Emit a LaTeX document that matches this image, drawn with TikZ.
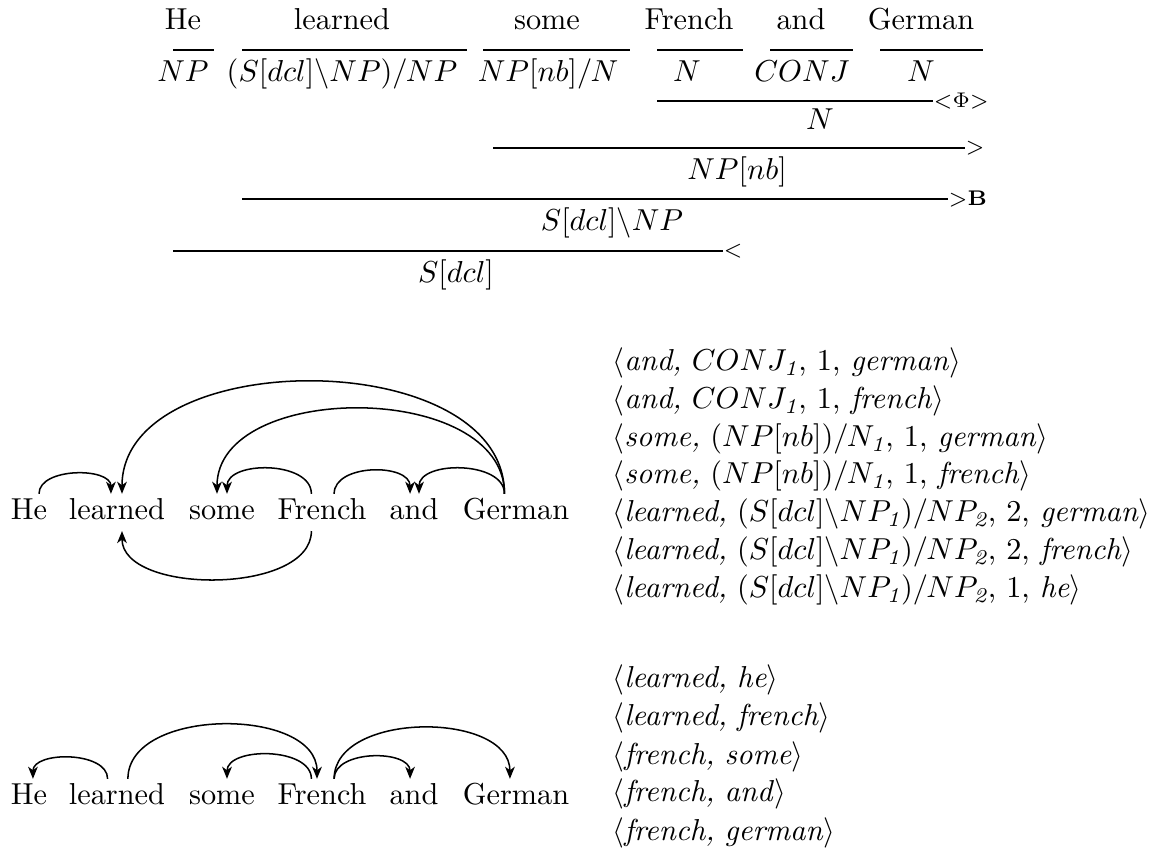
\documentclass[tikz,border=0pt]{standalone}
\usepackage{amsmath}
\usetikzlibrary{arrows.meta}
\begin{document}
\begin{tikzpicture}[x=0.33pt,y=0.33pt,
  lbl/.style={anchor=base,inner sep=0pt},
  rule/.style={line width=0.4pt},
  rl/.style={anchor=west,inner sep=0pt,font=\scriptsize},
  word/.style={anchor=base,inner xsep=0pt,inner ysep=1.5pt,text height=6.94pt,text depth=1.94pt},
  dep/.style={line width=0.5pt,-{Stealth[length=4pt,width=3.2pt,inset=1.2pt]}},
  tup/.style={anchor=base west,inner sep=0pt}]
\useasboundingbox (0,0) rectangle (1169,-850);

% ---------- CCG derivation ----------
\node[lbl] (w1) at (183,-30) {He};
\node[lbl] (w2) at (342,-30) {learned};
\node[lbl] (w3) at (547,-30) {some};
\node[lbl] (w4) at (689,-30) {French};
\node[lbl] (w5) at (801,-30) {and};
\node[lbl] (w6) at (921,-30) {German};

\node[lbl] (c1) at (183,-82) {$NP$};
\node[lbl] (c2) at (342,-82) {$(S[dcl]\backslash NP)/NP$};
\node[lbl] (c3) at (548,-82) {$NP[nb]/N$};
\node[lbl] (c4) at (687,-82) {$N$};
\node[lbl] (c5) at (802,-82) {$CONJ$};
\node[lbl] (c6) at (921,-82) {$N$};

\draw[rule] (173,-50) -- (214,-50);
\draw[rule] (242,-50) -- (467,-50);
\draw[rule] (483,-50) -- (630,-50);
\draw[rule] (657,-50) -- (743,-50);
\draw[rule] (770,-50) -- (853,-50);
\draw[rule] (880,-50) -- (983,-50);

\draw[rule] (657,-101) -- (933,-101) node[rl] (l2) {${<}\Phi{>}$};
\node[lbl] (r2) at (820,-130) {$N$};
\draw[rule] (493,-148) -- (965,-148) node[rl] (l3) {${>}$};
\node[lbl] (r3) at (737,-180) {$NP[nb]$};
\draw[rule] (242,-199) -- (948,-199) node[rl] (l4) {${>}\mathbf{B}$};
\node[lbl] (r4) at (612,-231) {$S[dcl]\backslash NP$};
\draw[rule] (173,-251) -- (723,-251) node[rl] (l5) {${<}$};
\node[lbl] (r5) at (456,-283) {$S[dcl]$};

% ---------- middle dependency graph ----------
\node[word] (m1) at (29,-520) {He};
\node[word] (m2) at (117,-520) {learned};
\node[word] (m3) at (222,-520) {some};
\node[word] (m4) at (322,-520) {French};
\node[word] (m5) at (414,-520) {and};
\node[word] (m6) at (516,-520) {German};

\draw[dep] ([xshift=3.3pt]m1.north) to[out=90,in=90,distance=8.8pt] ([xshift=-2pt]m2.north);
\draw[dep] ([xshift=-3.8pt]m6.north) to[out=90,in=90,distance=49.3pt] ([xshift=1.65pt]m2.north);
\draw[dep] ([xshift=-3.8pt]m6.north) to[out=90,in=90,distance=37.4pt] ([xshift=-1.65pt]m3.north);
\draw[dep] ([xshift=-3.5pt]m4.north) to[out=90,in=90,distance=11pt] ([xshift=1.65pt]m3.north);
\draw[dep] ([xshift=4pt]m4.north) to[out=90,in=90,distance=10.1pt] ([xshift=-1.3pt]m5.north);
\draw[dep] ([xshift=-3.8pt]m6.north) to[out=90,in=90,distance=11pt] ([xshift=1.65pt]m5.north);
\draw[dep] ([xshift=-3.5pt]m4.south) to[out=-90,in=-90,distance=21.1pt] ([xshift=1.65pt]m2.south);

\node[tup] (t1) at (612,-371) {$\langle$\textit{and,} $CONJ_{\textit{1}}$, 1, \textit{german}$\rangle$};
\node[tup] (t2) at (612,-409) {$\langle$\textit{and,} $CONJ_{\textit{1}}$, 1, \textit{french}$\rangle$};
\node[tup] (t3) at (612,-447) {$\langle$\textit{some,} $(NP[nb])/N_{\textit{1}}$, 1, \textit{german}$\rangle$};
\node[tup] (t4) at (612,-484) {$\langle$\textit{some,} $(NP[nb])/N_{\textit{1}}$, 1, \textit{french}$\rangle$};
\node[tup] (t5) at (612,-522) {$\langle$\textit{learned,} $(S[dcl]\backslash NP_{\textit{1}})/NP_{\textit{2}}$, 2, \textit{german}$\rangle$};
\node[tup] (t6) at (612,-560) {$\langle$\textit{learned,} $(S[dcl]\backslash NP_{\textit{1}})/NP_{\textit{2}}$, 2, \textit{french}$\rangle$};
\node[tup] (t7) at (612,-598) {$\langle$\textit{learned,} $(S[dcl]\backslash NP_{\textit{1}})/NP_{\textit{2}}$, 1, \textit{he}$\rangle$};

% ---------- bottom dependency graph ----------
\node[word] (b1) at (29,-805) {He};
\node[word] (b2) at (117,-805) {learned};
\node[word] (b3) at (222,-805) {some};
\node[word] (b4) at (322,-805) {French};
\node[word] (b5) at (414,-805) {and};
\node[word] (b6) at (516,-805) {German};

\draw[dep] ([xshift=-3.1pt]b2.north) to[out=90,in=90,distance=9.2pt] ([xshift=1.3pt]b1.north);
\draw[dep] ([xshift=3.6pt]b2.north) to[out=90,in=90,distance=23.8pt] ([xshift=-1.65pt]b4.north);
\draw[dep] ([xshift=-3.5pt]b4.north) to[out=90,in=90,distance=10.6pt] ([xshift=1.65pt]b3.north);
\draw[dep] ([xshift=4pt]b4.north) to[out=90,in=90,distance=9.7pt] ([xshift=-1.3pt]b5.north);
\draw[dep] ([xshift=4pt]b4.north) to[out=90,in=90,distance=22.4pt] ([xshift=-2pt]b6.north);

\node[tup] (u1) at (612,-688) {$\langle$\textit{learned,} \textit{he}$\rangle$};
\node[tup] (u2) at (612,-726) {$\langle$\textit{learned,} \textit{french}$\rangle$};
\node[tup] (u3) at (612,-764) {$\langle$\textit{french,} \textit{some}$\rangle$};
\node[tup] (u4) at (612,-802) {$\langle$\textit{french,} \textit{and}$\rangle$};
\node[tup] (u5) at (612,-841) {$\langle$\textit{french,} \textit{german}$\rangle$};
\end{tikzpicture}
\end{document}
